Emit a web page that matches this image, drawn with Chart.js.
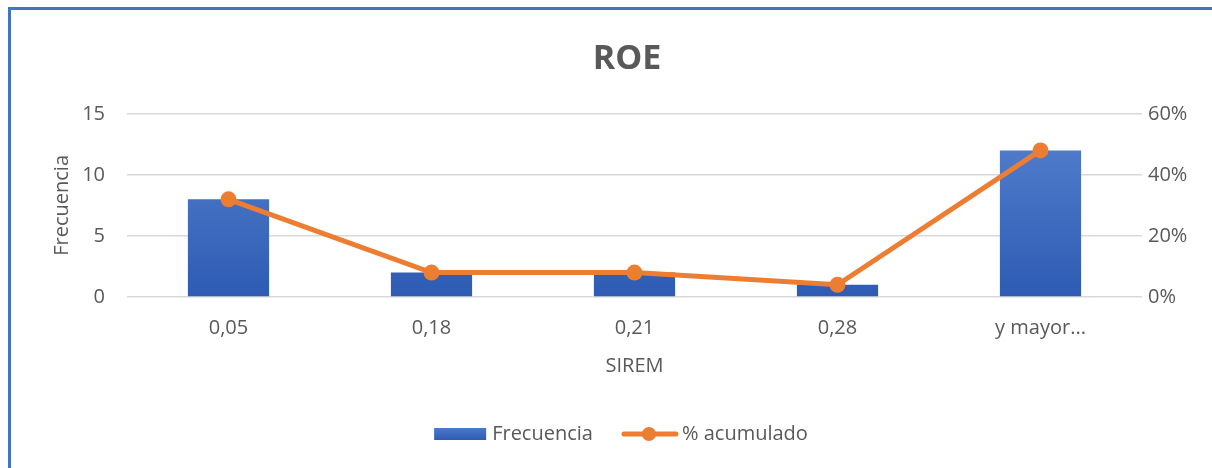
<!DOCTYPE html>
<html>
<head>
<meta charset="utf-8">
<script src="https://cdn.jsdelivr.net/npm/chart.js@4/dist/chart.umd.min.js"></script>
<style>
    html, body { margin: 0; padding: 0; background: #fff; overflow: hidden; }
    #wrap { position: relative; width: 1212px; height: 468px; }
    #frame {
        position: absolute; left: 8px; top: 7px; width: 1300px; height: 600px;
        border-top: 3px solid #4472C4; border-left: 3px solid #4472C4;
        box-sizing: border-box;
    }
    canvas { position: absolute; left: 0; top: 0; }
</style>
</head>
<body>
<div id="wrap">
    <div id="frame"></div>
    <canvas id="roeChart" width="1212" height="468"></canvas>
</div>
<script>
// 数据
const categories = ['0,05', '0,18', '0,21', '0,28', 'y mayor...'];
const frecuencia = [8, 2, 2, 1, 12];
const acumulado = [0.32, 0.08, 0.08, 0.04, 0.48];
const leftTicks = [0, 5, 10, 15];
const rightTicks = [0, 0.2, 0.4, 0.6];

const FONT = '"Open Sans", Lato, sans-serif';
const FSIZE = 20;
const GREY = '#595959';
const ORANGE = '#ED7D31';

// 底部图例（柱 + 折线带圆点）
const bottomLegend = {
    id: 'bottomLegend',
    afterDraw(chart) {
        const ctx = chart.ctx;
        const sets = chart.data.datasets;
        const barSet = sets.find(d => d.type === 'bar');
        const lineSet = sets.find(d => d.type === 'line');
        const y = 434;
        ctx.save();
        ctx.font = FSIZE + 'px ' + FONT;
        ctx.textBaseline = 'middle';
        const w1 = ctx.measureText(barSet.label).width;
        const w2 = ctx.measureText(lineSet.label).width;
        const total = 52 + 6 + w1 + 29 + 56 + 4 + w2;
        let x = 621 - total / 2;

        // 柱形图例
        const g = ctx.createLinearGradient(0, y - 6, 0, y + 6);
        g.addColorStop(0, '#4A78CB');
        g.addColorStop(1, '#2F5CB4');
        ctx.fillStyle = g;
        ctx.fillRect(x, y - 6, 52, 12);
        x += 58;
        ctx.fillStyle = GREY;
        ctx.fillText(barSet.label, x, y);
        x += w1 + 29;

        // 折线图例
        ctx.strokeStyle = ORANGE;
        ctx.lineWidth = 5;
        ctx.lineCap = 'round';
        ctx.beginPath();
        ctx.moveTo(x + 2, y);
        ctx.lineTo(x + 54, y);
        ctx.stroke();
        ctx.fillStyle = ORANGE;
        ctx.beginPath();
        ctx.arc(x + 27, y, 7, 0, Math.PI * 2);
        ctx.fill();
        x += 60;
        ctx.fillStyle = GREY;
        ctx.fillText(lineSet.label, x, y);
        ctx.restore();
    }
};

document.addEventListener('DOMContentLoaded', function() {
    const ctx = document.getElementById('roeChart').getContext('2d');

    // 柱子渐变色
    function barGradient(context) {
        const area = context.chart.chartArea;
        if (!area) return '#3A68BF';
        const g = context.chart.ctx.createLinearGradient(0, area.top, 0, area.bottom);
        g.addColorStop(0, '#5782D0');
        g.addColorStop(1, '#2E5BB3');
        return g;
    }

    new Chart(ctx, {
        data: {
            labels: categories,
            datasets: [
                {
                    type: 'line',
                    label: '% acumulado',
                    data: acumulado,
                    yAxisID: 'y1',
                    borderColor: ORANGE,
                    backgroundColor: ORANGE,
                    borderWidth: 5,
                    pointRadius: 8,
                    pointHoverRadius: 8,
                    pointBorderWidth: 0,
                    tension: 0,
                    order: 0
                },
                {
                    type: 'bar',
                    label: 'Frecuencia',
                    data: frecuencia,
                    yAxisID: 'y',
                    backgroundColor: barGradient,
                    barPercentage: 0.4,
                    categoryPercentage: 1,
                    order: 1
                }
            ]
        },
        options: {
            responsive: false,
            animation: false,
            layout: { padding: { left: 50, right: 8, top: 31, bottom: 90 } },
            plugins: {
                legend: { display: false },
                tooltip: { enabled: false },
                title: {
                    display: true,
                    text: 'ROE',
                    color: GREY,
                    font: { family: FONT, size: 34, weight: 'bold' },
                    padding: { top: 8, bottom: 34 }
                }
            },
            scales: {
                x: {
                    grid: { display: false, drawTicks: false },
                    border: { display: false },
                    ticks: { color: GREY, font: { family: FONT, size: FSIZE }, padding: 19, maxRotation: 0 },
                    title: {
                        display: true,
                        text: 'SIREM',
                        color: GREY,
                        font: { family: FONT, size: FSIZE },
                        padding: { top: -5, bottom: 0 }
                    }
                },
                y: {
                    position: 'left',
                    min: 0,
                    max: 15,
                    afterBuildTicks: axis => { axis.ticks = leftTicks.map(v => ({ value: v })); },
                    grid: { color: '#D9D9D9', lineWidth: 1.5, drawTicks: false },
                    border: { display: false },
                    ticks: { color: GREY, font: { family: FONT, size: FSIZE }, padding: 22 },
                    title: {
                        display: true,
                        text: 'Frecuencia',
                        color: GREY,
                        font: { family: FONT, size: FSIZE },
                        padding: { top: 0, bottom: 0 }
                    },
                    afterFit: axis => { axis.width = 77; }
                },
                y1: {
                    position: 'right',
                    min: 0,
                    max: 0.6,
                    afterBuildTicks: axis => { axis.ticks = rightTicks.map(v => ({ value: v })); },
                    grid: { display: false, drawTicks: false },
                    border: { display: false },
                    ticks: {
                        color: GREY,
                        font: { family: FONT, size: FSIZE },
                        padding: 6,
                        callback: v => Math.round(v * 100) + '%'
                    },
                    afterFit: axis => { axis.width = 62; }
                }
            }
        },
        plugins: [bottomLegend]
    });
});
</script>
</body>
</html>
